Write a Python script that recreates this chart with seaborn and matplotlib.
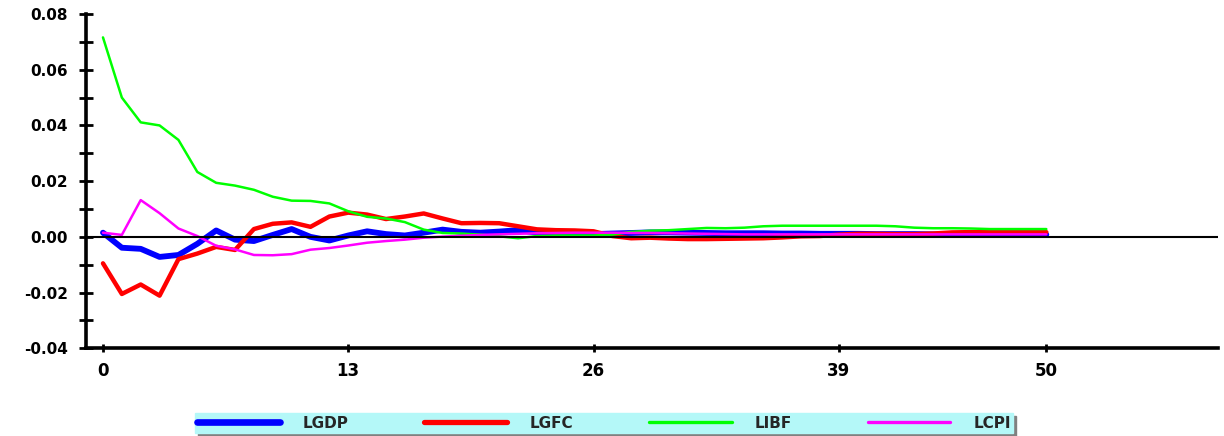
import numpy as np
import pandas as pd
import matplotlib
matplotlib.use("Agg")
import matplotlib.pyplot as plt
import seaborn as sns
from matplotlib.ticker import MultipleLocator

# --- Data ---
periods = list(range(51))

lgdp = [0.0015, -0.0039, -0.0043, -0.0072, -0.0065, -0.0025, 0.0023, -0.0010, -0.0015, 0.0007,
        0.0028, 0.0000, -0.0013, 0.0005, 0.0020, 0.0010, 0.0005, 0.0015, 0.0026, 0.0018,
        0.0015, 0.0019, 0.0024, 0.0015, 0.0010, 0.0009, 0.0010, 0.0012, 0.0014, 0.0016,
        0.0016, 0.0015, 0.0014, 0.0013, 0.0013, 0.0013, 0.0012, 0.0012, 0.0011, 0.0011,
        0.0011, 0.0010, 0.0010, 0.0010, 0.0009, 0.0009, 0.0009, 0.0009, 0.0008, 0.0008, 0.0008]

lgfc = [-0.0095, -0.0205, -0.0171, -0.0211, -0.0080, -0.0060, -0.0036, -0.0047, 0.0028, 0.0047,
        0.0052, 0.0036, 0.0073, 0.0087, 0.0080, 0.0064, 0.0073, 0.0084, 0.0066, 0.0049,
        0.0050, 0.0049, 0.0038, 0.0027, 0.0024, 0.0023, 0.0020, 0.0003, -0.0005, -0.0003,
        -0.0006, -0.0008, -0.0008, -0.0007, -0.0006, -0.0005, -0.0002, 0.0002, 0.0003, 0.0008,
        0.0011, 0.0011, 0.0010, 0.0010, 0.0012, 0.0016, 0.0017, 0.0017, 0.0017, 0.0017, 0.0017]

libf = [0.0716, 0.0500, 0.0411, 0.0400, 0.0348, 0.0233, 0.0194, 0.0184, 0.0169, 0.0144,
        0.0130, 0.0129, 0.0120, 0.0092, 0.0072, 0.0066, 0.0053, 0.0026, 0.0014, 0.0012,
        0.0008, 0.0002, -0.0005, 0.0003, 0.0005, 0.0005, 0.0005, 0.0008, 0.0018, 0.0022,
        0.0024, 0.0028, 0.0032, 0.0031, 0.0033, 0.0038, 0.0040, 0.0040, 0.0040, 0.0040,
        0.0040, 0.0040, 0.0038, 0.0033, 0.0031, 0.0031, 0.0030, 0.0028, 0.0028, 0.0028, 0.0028]

lcpi = [0.0015, 0.0007, 0.0132, 0.0085, 0.0030, 0.0003, -0.0032, -0.0045, -0.0065, -0.0066,
        -0.0062, -0.0046, -0.0040, -0.0031, -0.0021, -0.0015, -0.0010, -0.0003, 0.0001, 0.0004,
        0.0007, 0.0009, 0.0011, 0.0013, 0.0014, 0.0015, 0.0015, 0.0015, 0.0014, 0.0014,
        0.0013, 0.0012, 0.0011, 0.0010, 0.0009, 0.0009, 0.0009, 0.0009, 0.0009, 0.0009,
        0.0009, 0.0009, 0.0009, 0.0009, 0.0009, 0.0009, 0.0009, 0.0009, 0.0009, 0.0009, 0.0009]

series_names = ['LGDP', 'LGFC', 'LIBF', 'LCPI']
x_ticks = [0, 13, 26, 39, 50]

# --- Styling ---
sns.set_style("white")
plt.rcParams['font.family'] = ['DejaVu Sans']
plt.rcParams['font.weight'] = 'bold'

colors = {'LGDP': '#0000FF', 'LGFC': '#FF0000', 'LIBF': '#00FF00', 'LCPI': '#FF00FF'}
widths = {'LGDP': 4.2, 'LGFC': 3.2, 'LIBF': 1.8, 'LCPI': 1.8}

df = pd.DataFrame({'period': periods, 'LGDP': lgdp, 'LGFC': lgfc, 'LIBF': libf, 'LCPI': lcpi})
long_df = df.melt(id_vars='period', var_name='series', value_name='response')

fig = plt.figure(figsize=(12.24, 4.36), dpi=100)
ax = fig.add_axes([86 / 1224, 1 - 348.3 / 436, (1218 - 86) / 1224, (348.3 - 14) / 436])

for name in series_names:
    sub = long_df[long_df['series'] == name]
    sns.lineplot(data=sub, x='period', y='response', color=colors[name],
                 linewidth=widths[name], label=name, ax=ax, legend=False)

ax.axhline(0, color='black', linewidth=1.5, zorder=5)

ax.set_xlim(-0.9, 59.1)
ax.set_ylim(-0.04, 0.08)
ax.set_xticks(x_ticks)
ax.yaxis.set_major_locator(MultipleLocator(0.02))
ax.yaxis.set_minor_locator(MultipleLocator(0.01))
ax.yaxis.set_major_formatter(matplotlib.ticker.FormatStrFormatter('%.2f'))
ax.set_xlabel('')
ax.set_ylabel('')

for side in ['top', 'right']:
    ax.spines[side].set_visible(False)
for side in ['left', 'bottom']:
    ax.spines[side].set_color('black')
    ax.spines[side].set_linewidth(2.6)

ax.tick_params(axis='y', which='both', direction='inout', length=10, width=2,
               pad=8, labelsize=11, left=True, colors='black')
ax.tick_params(axis='x', which='major', direction='inout', length=6, width=2,
               pad=7, labelsize=12, bottom=True, colors='black')
for lbl in ax.get_xticklabels() + ax.get_yticklabels():
    lbl.set_fontweight('bold')

# legend strip at the bottom, cyan box with a grey drop shadow
handles = [plt.Line2D([], [], color=colors[n], linewidth=widths[n] + 0.6, solid_capstyle='round')
           for n in series_names]
leg = fig.legend(handles, series_names, loc='lower left',
                 bbox_to_anchor=(195 / 1224, 3 / 436, 818 / 1224, 23 / 436),
                 mode='expand', ncol=4, fontsize=11, handlelength=5.4,
                 handletextpad=1.5, borderpad=0.15, borderaxespad=0,
                 fancybox=False, frameon=True,
                 shadow={'color': '#808080', 'alpha': 1.0})
leg.get_frame().set_facecolor('#B4F8F8')
leg.get_frame().set_edgecolor('#B4F8F8')
leg.get_frame().set_alpha(1.0)
for t in leg.get_texts():
    t.set_fontweight('bold')

fig.savefig('out.png', dpi=100)
